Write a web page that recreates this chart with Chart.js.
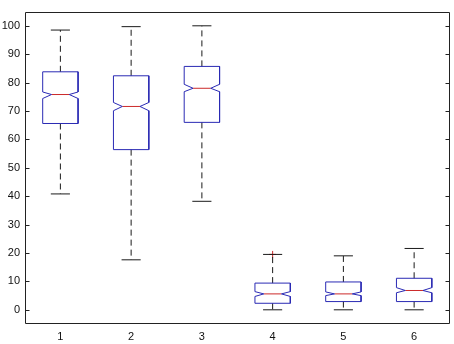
<!DOCTYPE html>
<html>
<head>
<meta charset="utf-8">
<script src="https://cdn.jsdelivr.net/npm/chart.js@4"></script>
<style>
html,body{margin:0;padding:0;background:#fff;}
#wrap{width:454px;height:344px;position:relative;}
</style>
</head>
<body>
<div id="wrap"><canvas id="c" width="454" height="344"></canvas></div>
<script>
// ---- data ----
const categories   = ['1', '2', '3', '4', '5', '6'];
const upperWhisker = [98.5, 99.7, 100.0, 19.5, 19.0, 21.6];
const q3           = [83.8, 82.4, 85.7, 9.4, 9.8, 11.1];
const notchHigh    = [76.7, 73.0, 79.4, 6.4, 6.3, 7.8];
const median       = [75.8, 71.6, 78.0, 5.6, 5.6, 6.8];
const notchLow     = [74.4, 70.1, 76.8, 4.7, 5.0, 6.0];
const q1           = [65.6, 56.4, 66.0, 2.3, 2.9, 2.9];
const lowerWhisker = [40.8, 17.6, 38.2, 0.0, 0.0, 0.0];
const outlierCat   = [4];
const outlierVal   = [19.5];
const yTickValues  = [0, 10, 20, 30, 40, 50, 60, 70, 80, 90, 100];

// ---- styling ----
const BOX_HALF = 0.25, NOTCH_HALF = 0.125, CAP_HALF = 0.135;
const BLUE = '#2a2ab4', RED = '#cc2a2a', BLACK = '#1a1a1a';

const datasets = [];
categories.forEach((c, i) => {
  const x = i + 1;
  // box outline with notch
  datasets.push({
    data: [
      {x: x - BOX_HALF, y: q1[i]}, {x: x - BOX_HALF, y: notchLow[i]},
      {x: x - NOTCH_HALF, y: median[i]}, {x: x - BOX_HALF, y: notchHigh[i]},
      {x: x - BOX_HALF, y: q3[i]}, {x: x + BOX_HALF, y: q3[i]},
      {x: x + BOX_HALF, y: notchHigh[i]}, {x: x + NOTCH_HALF, y: median[i]},
      {x: x + BOX_HALF, y: notchLow[i]}, {x: x + BOX_HALF, y: q1[i]},
      {x: x - BOX_HALF, y: q1[i]}
    ],
    showLine: true, borderColor: BLUE, borderWidth: 1, pointRadius: 0, fill: false, tension: 0
  });
  // median
  datasets.push({
    data: [{x: x - NOTCH_HALF, y: median[i]}, {x: x + NOTCH_HALF, y: median[i]}],
    showLine: true, borderColor: RED, borderWidth: 1, pointRadius: 0
  });
  // whiskers (dashed)
  datasets.push({
    data: [{x: x, y: q3[i]}, {x: x, y: upperWhisker[i]}],
    showLine: true, borderColor: BLACK, borderWidth: 1, borderDash: [6, 4], pointRadius: 0
  });
  datasets.push({
    data: [{x: x, y: q1[i]}, {x: x, y: lowerWhisker[i]}],
    showLine: true, borderColor: BLACK, borderWidth: 1, borderDash: [6, 4], pointRadius: 0
  });
  // caps
  datasets.push({
    data: [{x: x - CAP_HALF, y: upperWhisker[i]}, {x: x + CAP_HALF, y: upperWhisker[i]}],
    showLine: true, borderColor: BLACK, borderWidth: 1, pointRadius: 0
  });
  datasets.push({
    data: [{x: x - CAP_HALF, y: lowerWhisker[i]}, {x: x + CAP_HALF, y: lowerWhisker[i]}],
    showLine: true, borderColor: BLACK, borderWidth: 1, pointRadius: 0
  });
});
// outliers
datasets.push({
  data: outlierCat.map((c, k) => ({x: c, y: outlierVal[k]})),
  showLine: false, pointStyle: 'cross', pointRadius: 3.5, borderColor: RED, borderWidth: 1, pointHoverRadius: 3.5
});

const framePlugin = {
  id: 'frame',
  afterDatasetsDraw(chart) {
    const {ctx, chartArea: a, scales} = chart;
    ctx.save();
    ctx.strokeStyle = '#222';
    ctx.lineWidth = 1;
    const L = Math.round(a.left) + 0.5, R = Math.round(a.right) - 0.5;
    const T = Math.round(a.top) + 0.5, B = Math.round(a.bottom) - 0.5;
    ctx.beginPath();
    ctx.rect(L, T, R - L, B - T);
    ctx.stroke();
    // inside ticks, left and right
    ctx.beginPath();
    scales.y.ticks.forEach(t => {
      const py = Math.round(scales.y.getPixelForValue(t.value)) + 0.5;
      ctx.moveTo(L, py); ctx.lineTo(L + 4, py);
      ctx.moveTo(R, py); ctx.lineTo(R - 4, py);
    });
    ctx.stroke();
    ctx.restore();
  }
};

new Chart(document.getElementById('c'), {
  type: 'scatter',
  data: {datasets},
  options: {
    responsive: false,
    animation: false,
    devicePixelRatio: 1,
    layout: {padding: {top: 6, right: 4, left: 0, bottom: 0}},
    plugins: {legend: {display: false}, tooltip: {enabled: false}},
    scales: {
      x: {
        type: 'linear', min: 0.5, max: 6.5,
        afterBuildTicks: s => { s.ticks = categories.map((c, i) => ({value: i + 1})); },
        afterFit: s => { s.height = 20; },
        grid: {display: false, drawTicks: false},
        border: {display: false},
        ticks: {
          padding: 6, color: '#111', autoSkip: false, maxRotation: 0,
          font: {family: 'Liberation Sans, Arial, sans-serif', size: 11},
          callback: v => categories[Math.round(v) - 1]
        }
      },
      y: {
        type: 'linear', min: -5, max: 105,
        afterBuildTicks: s => { s.ticks = yTickValues.map(v => ({value: v})); },
        afterFit: s => { s.width = 25; },
        grid: {display: false, drawTicks: false},
        border: {display: false},
        ticks: {
          padding: 5, color: '#111',
          font: {family: 'Liberation Sans, Arial, sans-serif', size: 11},
          callback: v => String(v)
        }
      }
    }
  },
  plugins: [framePlugin]
});
</script>
</body>
</html>
